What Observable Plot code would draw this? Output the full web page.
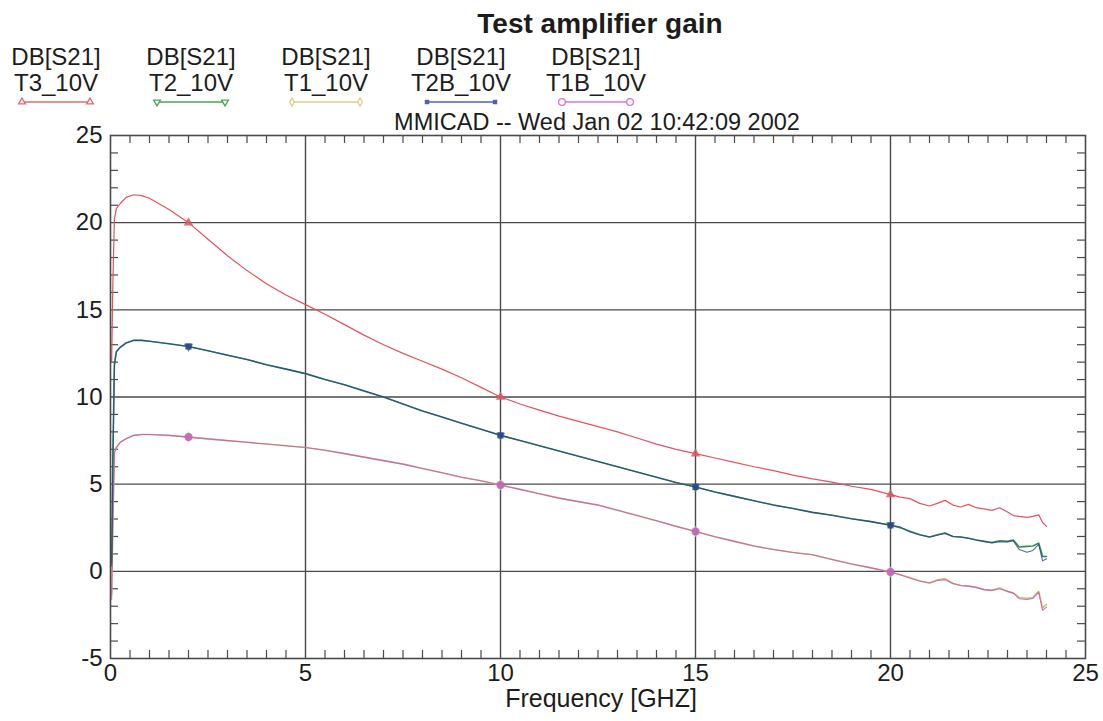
<!DOCTYPE html>
<html><head><meta charset="utf-8">
<script src="https://cdn.jsdelivr.net/npm/d3@7"></script>
<script src="https://cdn.jsdelivr.net/npm/@observablehq/plot@0.6"></script>
<style>
body{margin:0;background:#fff;}
#wrap{position:relative;width:1103px;height:721px;overflow:hidden;background:#fff}
#head,#chart{display:block}
svg{display:block}
</style></head><body>
<div id="wrap"><div id="head"></div><div id="chart"></div></div>
<script>
// ---------- data ----------
const title = "Test amplifier gain";
const subtitle = "MMICAD -- Wed Jan 02 10:42:09 2002";
const xLabel = "Frequency [GHZ]";
const measure = "DB[S21]";
const seriesNames = ["T3_10V", "T2_10V", "T1_10V", "T2B_10V", "T1B_10V"];
const xTicks = [0, 5, 10, 15, 20, 25];
const yTicks = [-5, 0, 5, 10, 15, 20, 25];
const markerFreqs = [2, 10, 15, 20];

const freq = [0.03, 0.06, 0.1, 0.15, 0.25, 0.4, 0.6, 0.8, 1,
  1.5, 2, 2.5, 3, 3.5, 4, 4.5, 5,
  5.5, 6, 6.5, 7, 7.5, 8, 8.5, 9, 9.5, 10,
  10.5, 11, 11.5, 12, 12.5, 13, 13.5, 14, 14.5, 15,
  15.5, 16, 16.5, 17, 17.5, 18, 18.5, 19, 19.5, 20,
  20.25, 20.5, 20.75, 21, 21.2, 21.4, 21.6, 21.8, 22,
  22.2, 22.4, 22.6, 22.8, 23, 23.15, 23.3, 23.5, 23.65, 23.8, 23.9, 24];

const t3 = [12.0, 16.5, 20.2, 20.8, 21.1, 21.45, 21.6, 21.55, 21.4,
  20.75, 20.0, 19.05, 18.1, 17.25, 16.5, 15.85, 15.3,
  14.75, 14.15, 13.55, 13.0, 12.5, 12.05, 11.6, 11.1, 10.55, 10.0,
  9.6, 9.25, 8.9, 8.6, 8.3, 8.0, 7.65, 7.3, 7.0, 6.75,
  6.5, 6.25, 6.0, 5.78, 5.52, 5.3, 5.12, 4.88, 4.7, 4.4,
  4.26, 4.17, 3.9, 3.75, 3.9, 4.07, 3.8, 3.69, 3.84,
  3.65, 3.58, 3.5, 3.65, 3.4, 3.2, 3.15, 3.1, 3.15, 3.24, 2.8, 2.58];

const t2 = [0.5, 6.5, 11.9, 12.6, 12.85, 13.1, 13.25, 13.25, 13.2,
  13.05, 12.9, 12.65, 12.4, 12.15, 11.85, 11.6, 11.34,
  11.0, 10.7, 10.35, 10.0, 9.6, 9.2, 8.85, 8.5, 8.15, 7.8,
  7.5, 7.2, 6.9, 6.6, 6.3, 6.0, 5.7, 5.4, 5.1, 4.84,
  4.55, 4.3, 4.05, 3.8, 3.6, 3.38, 3.22, 3.02, 2.85, 2.64,
  2.5, 2.3, 2.1, 1.97, 2.1, 2.2, 2.0, 1.97, 1.9,
  1.8, 1.72, 1.65, 1.75, 1.72, 1.8, 1.4, 1.43, 1.45, 1.62, 0.85, 0.85];

const t1 = [-1.3, 2.8, 6.8, 7.1, 7.4, 7.6, 7.8, 7.85, 7.85,
  7.8, 7.7, 7.6, 7.5, 7.4, 7.3, 7.2, 7.1,
  6.95, 6.75, 6.55, 6.35, 6.15, 5.9, 5.65, 5.4, 5.2, 4.95,
  4.7, 4.45, 4.2, 4.0, 3.8, 3.5, 3.2, 2.9, 2.58, 2.28,
  1.98, 1.72, 1.45, 1.25, 1.08, 0.95, 0.68, 0.42, 0.2, -0.04,
  -0.2, -0.35, -0.55, -0.67, -0.5, -0.42, -0.7, -0.81, -0.85,
  -0.92, -1.05, -1.09, -0.95, -1.15, -1.25, -1.5, -1.55, -1.5, -1.15, -2.1, -1.9];

const t2b = [0.3, 6.0, 11.8, 12.6, 12.85, 13.1, 13.25, 13.25, 13.2,
  13.05, 12.9, 12.65, 12.4, 12.15, 11.85, 11.6, 11.34,
  11.0, 10.7, 10.35, 10.0, 9.6, 9.2, 8.85, 8.5, 8.15, 7.8,
  7.5, 7.2, 6.9, 6.6, 6.3, 6.0, 5.7, 5.4, 5.1, 4.84,
  4.55, 4.3, 4.05, 3.8, 3.6, 3.38, 3.22, 3.02, 2.85, 2.64,
  2.55, 2.26, 2.1, 1.97, 2.07, 2.17, 2.0, 1.97, 1.9,
  1.8, 1.72, 1.63, 1.7, 1.68, 1.75, 1.25, 1.1, 1.2, 1.55, 0.6, 0.72];

const t1b = [-1.6, 2.5, 6.8, 7.1, 7.4, 7.6, 7.8, 7.85, 7.85,
  7.8, 7.7, 7.6, 7.5, 7.4, 7.3, 7.2, 7.1,
  6.95, 6.75, 6.55, 6.35, 6.15, 5.9, 5.65, 5.4, 5.2, 4.95,
  4.7, 4.45, 4.2, 4.0, 3.8, 3.5, 3.2, 2.9, 2.58, 2.28,
  1.98, 1.72, 1.45, 1.25, 1.08, 0.95, 0.68, 0.42, 0.2, -0.04,
  -0.2, -0.4, -0.55, -0.67, -0.52, -0.48, -0.7, -0.81, -0.85,
  -0.92, -1.05, -1.09, -1.0, -1.15, -1.25, -1.57, -1.62, -1.55, -1.19, -2.24, -2.05];

// ---------- styles ----------
const seriesValues = {T3_10V: t3, T2_10V: t2, T1_10V: t1, T2B_10V: t2b, T1B_10V: t1b};
const colors = {T3_10V: "#e2545e", T2_10V: "#2f9440", T1_10V: "#d4c46a", T2B_10V: "#2e3c9c", T1B_10V: "#c35ac0"};
const legendColors = {T3_10V: "#e46a72", T2_10V: "#4aa556", T1_10V: "#dccf86", T2B_10V: "#5360b4", T1B_10V: "#d47ad2"};
const symbols = {T3_10V: "triangle", T2_10V: "triangle", T1_10V: "diamond", T2B_10V: "square", T1B_10V: "circle"};
const rotations = {T3_10V: 0, T2_10V: 180, T1_10V: 0, T2B_10V: 0, T1B_10V: 0};
const drawOrder = ["T1_10V", "T1B_10V", "T2_10V", "T2B_10V", "T3_10V"];
const font = "'Liberation Sans', Arial, Helvetica, sans-serif";
const ink = "#1c1c1c";

// ---------- header (title, legend) ----------
const W = 1103, headH = 108;
const head = d3.create("svg").attr("width", W).attr("height", headH)
  .attr("font-family", font).attr("fill", ink);
head.append("text").attr("x", 600).attr("y", 33).attr("text-anchor", "middle")
  .attr("font-size", 28).attr("font-weight", "bold").text(title);
seriesNames.forEach((name, i) => {
  const cx = 56 + 135 * i;
  head.append("text").attr("x", cx).attr("y", 65).attr("text-anchor", "middle").attr("font-size", 24).text(measure);
  head.append("text").attr("x", cx).attr("y", 91).attr("text-anchor", "middle").attr("font-size", 24).text(name);
  const c = legendColors[name];
  head.append("line").attr("x1", cx - 34).attr("x2", cx + 34).attr("y1", 102).attr("y2", 102)
    .attr("stroke", c).attr("stroke-width", 1.4);
  const sym = {triangle: d3.symbolTriangle, diamond: d3.symbolDiamond, square: d3.symbolSquare, circle: d3.symbolCircle}[symbols[name]];
  [cx - 34, cx + 34].forEach(px => {
    const g = head.append("path").attr("d", d3.symbol(sym, name === "T1B_10V" ? 36 : 20)())
      .attr("transform", `translate(${px},102) rotate(${rotations[name]})`);
    if (name === "T2B_10V") g.attr("fill", c).attr("stroke", "none");
    else g.attr("fill", "white").attr("stroke", c).attr("stroke-width", 1.3);
  });
});
document.getElementById("head").appendChild(head.node());

// ---------- plot ----------
const H = 721 - headH;
const mTop = 27, mBottom = 63, mLeft = 110, mRight = 18;
const innerW = W - mLeft - mRight, innerH = H - mTop - mBottom;
const minorX = d3.range(1, 50).map(i => i / 2).filter(v => v % 5 !== 0);
const minorY = d3.range(-4, 25).filter(v => v % 5 !== 0);

const rows = [];
seriesNames.forEach(name => freq.forEach((f, i) => rows.push({series: name, f, v: seriesValues[name][i]})));
const markerRows = rows.filter(r => markerFreqs.includes(r.f));

const gridStyle = {stroke: "#4a4a4a", strokeOpacity: 1, strokeWidth: 1.4};
const tickStyle = {stroke: "#4a4a4a", strokeWidth: 1.2};

const lineWidth = {T3_10V: 1.2, T2_10V: 1.6, T1_10V: 1.6, T2B_10V: 1.1, T1B_10V: 1.1};
const lineOpacity = {T3_10V: 1, T2_10V: 1, T1_10V: 1, T2B_10V: 0.8, T1B_10V: 0.85};

const chart = Plot.plot({
  width: W, height: H,
  marginTop: mTop, marginBottom: mBottom, marginLeft: mLeft, marginRight: mRight,
  style: {fontFamily: font, fontSize: "24px", color: ink, background: "white", overflow: "visible"},
  x: {domain: [0, 25]},
  y: {domain: [-5, 25]},
  marks: [
    Plot.gridX(xTicks.slice(1, -1), gridStyle),
    Plot.gridY(yTicks.slice(1, -1), gridStyle),
    Plot.ruleX(minorX, {...tickStyle, insetTop: innerH - 8}),
    Plot.ruleX(minorX, {...tickStyle, insetBottom: innerH - 8}),
    Plot.ruleY(minorY, {...tickStyle, insetRight: innerW - 8}),
    Plot.ruleY(minorY, {...tickStyle, insetLeft: innerW - 8}),
    ...drawOrder.map(name => Plot.line(rows.filter(r => r.series === name), {
      x: "f", y: "v", stroke: colors[name], strokeWidth: lineWidth[name], strokeOpacity: lineOpacity[name]
    })),
    ...drawOrder.map(name => Plot.dot(markerRows.filter(r => r.series === name), {
      x: "f", y: "v", symbol: symbols[name], rotate: rotations[name],
      r: name === "T1B_10V" ? 4 : 3.5, fill: colors[name], fillOpacity: 0.85, stroke: "none"
    })),
    Plot.frame({stroke: "#4a4a4a", strokeWidth: 1.6}),
    Plot.axisX({ticks: xTicks, tickSize: 0, tickPadding: 5, tickFormat: d => String(d), fontSize: 24, label: null}),
    Plot.axisY({ticks: yTicks, tickSize: 0, tickPadding: 8, tickFormat: d => String(d), fontSize: 24, label: null}),
    Plot.text([subtitle], {text: d => d, frameAnchor: "top", lineAnchor: "bottom", dx: -1, dy: -6, fontSize: 23.5, fill: ink}),
    Plot.text([xLabel], {text: d => d, frameAnchor: "bottom", lineAnchor: "bottom", dx: 3, dy: 48, fontSize: 25, fill: ink})
  ]
});
document.getElementById("chart").appendChild(chart);
</script>
</body></html>
